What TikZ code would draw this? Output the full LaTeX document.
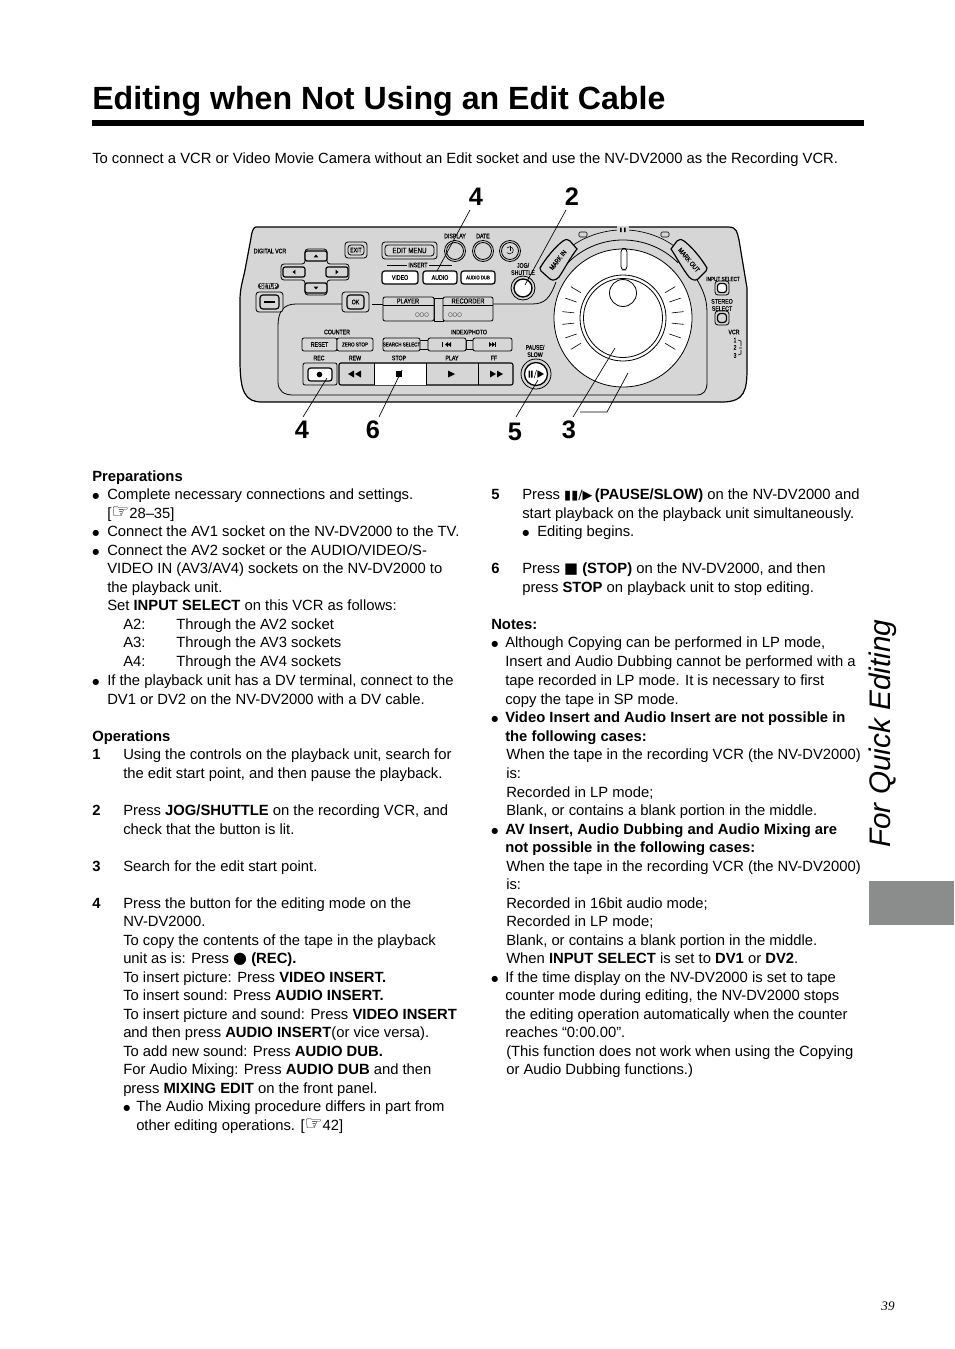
\documentclass[tikz,border=0pt]{standalone}
\usepackage{fontspec}
\setmainfont{Liberation Sans}
\newfontfamily\sym{DejaVu Sans}
\newfontfamily\pageserif{Liberation Serif}
\newfontfamily\narrowf[FakeStretch=0.8,FakeBold=0.5]{Liberation Sans}
\usetikzlibrary{arrows.meta}
\definecolor{panelgrey}{HTML}{D6D6D6}
\definecolor{tabgrey}{HTML}{8B8D8D}
\newcounter{tn}
\tikzset{
  x=0.75pt,y=-0.75pt,
  bodytext/.style={anchor=base west,inner sep=0pt,font=\fontsize{11.1}{12}\selectfont},
  tiny label/.style={inner sep=0pt,font=\narrowf\fontsize{4.9}{5.4}\selectfont,align=center},
  callout/.style={inner sep=0pt,font=\fontsize{19}{19}\selectfont\bfseries},
  leader/.style={draw=black,line width=0.5pt},
  devline/.style={draw=black,line width=0.6pt},
  btnouter/.style={draw=black,line width=0.6pt,rounded corners=2.2pt,fill=panelgrey},
  btnwhite/.style={draw=black,line width=0.9pt,rounded corners=2pt,fill=white},
  btnflat/.style={draw=black,line width=0.6pt,rounded corners=1.5pt,fill=panelgrey},
  marktab/.style={draw=black,line width=0.9pt,fill=panelgrey},
}
% body line: x, y of the line's middle in page pixels, text
\newcommand{\tl}[3]{\stepcounter{tn}\node[bodytext] (t\arabic{tn}) at (#1,#2+5) {#3};}
% device button: x1,y1,x2,y2,style,text
\newcommand{\btn}[6]{\draw[#5] (#1,#2) rectangle (#3,#4);\stepcounter{tn}\node[tiny label] (t\arabic{tn}) at ({(#1+#3)/2},{(#2+#4)/2}) {#6};}
\newcommand{\tinyt}[3]{\stepcounter{tn}\node[tiny label] (t\arabic{tn}) at (#1,#2) {#3};}
\newcommand{\bul}{{\sym\fontsize{6}{6}\selectfont\raisebox{0.6pt}{●}}}
\newcommand{\hand}{{\sym\fontsize{15}{12}\selectfont\char"261E}}
\begin{document}
\begin{tikzpicture}
\useasboundingbox[fill=white] (0,0) rectangle (954,1349);

% ---------- heading ----------
\node[anchor=base west,inner sep=0pt,font=\fontsize{24.1}{26}\selectfont\bfseries] (title) at (92,109) {Editing when Not Using an Edit Cable};
\fill[black] (92,120) rectangle (864,126);
\tl{92}{158}{To connect a VCR or Video Movie Camera without an Edit socket and use the NV-DV2000 as the Recording VCR.}

% ---------- device ----------
\draw[devline,fill=panelgrey,line width=0.9pt] (256,227) -- (728,227) .. controls (737,227) and (737,232) .. (739,240) -- (747,288) -- (747,368)
  .. controls (747,390) and (745,402) .. (722,402) -- (262,402) .. controls (245,402) and (240,392) .. (240,360) -- (240,300) .. controls (240,288) and (243,280) .. (245,270) -- (251,238) .. controls (252,230) and (254,227) .. (256,227) -- cycle;
% lower panel edge
\draw[devline] (342,304) -- (296,304) .. controls (283,304) and (278,312) .. (278,326) -- (278,382) .. controls (278,391) and (284,395) .. (293,395) -- (696,395) .. controls (704,395) and (707,391) .. (707,382) -- (707,312) .. controls (707,298) and (702,288) .. (696,278);
\draw[devline] (372,304) -- (383,304);
\draw[devline] (493,304) -- (532,304) .. controls (545,304) and (550,298) .. (556,282);
% arcs round the dial
\coordinate (dial) at (623,318);
\draw[devline] (dial) ++(225:78) arc[start angle=225,end angle=315,radius=78];
\draw[line width=0.5pt,-{Stealth[length=4pt,width=3pt]}] (618.5,230) arc[start angle=267,end angle=228,radius=88];
\draw[line width=0.5pt,-{Stealth[length=4pt,width=3pt]}] (627.5,230) arc[start angle=273,end angle=312,radius=88];
\fill[panelgrey] (617,226) rectangle (629,233);
\fill[black] (620,227.5) rectangle (621.7,232) (624,227.5) rectangle (625.7,232);
\btn{579}{232}{587}{237}{draw=black,line width=0.4pt,rounded corners=1pt}{}
\btn{661}{232}{669}{237}{draw=black,line width=0.4pt,rounded corners=1pt}{}
% dial
\draw[devline,fill=white] (dial) circle (69);
\draw[devline] (dial) circle (43);
\draw[devline] (dial) circle (39.5);
\draw[devline] (623,293) circle (13.5);
\draw[devline,rounded corners=2.5pt] (621,248.5) rectangle (627,270);
\foreach \a in {-31,-19,-6,6,19,31}{
  \draw[line width=0.45pt] (dial) ++(\a:49) -- ++(\a:12);
  \draw[line width=0.45pt] (dial) ++(180+\a:49) -- ++(180+\a:12);
}
% mark buttons
\draw[marktab] (540,268) .. controls (546,258) and (555,247) .. (563,241) .. controls (566,239) and (568,239) .. (570,241) -- (577,249) .. controls (570,258) and (565,268) .. (559,277) .. controls (556,280) and (553,281) .. (550,279) -- (541,271) .. controls (540,270) and (540,269) .. (540,268) -- cycle;
\draw[marktab] (707,268) .. controls (701,258) and (692,247) .. (684,241) .. controls (681,239) and (679,239) .. (677,241) -- (671,249) .. controls (677,258) and (682,268) .. (689,277) .. controls (692,280) and (695,281) .. (698,279) -- (706,271) .. controls (707,270) and (707,269) .. (707,268) -- cycle;
\node[inner sep=0pt,rotate=52,font=\narrowf\fontsize{5.2}{5}\selectfont] (markin) at (558,260) {MARK IN};
\node[inner sep=0pt,rotate=-50,font=\narrowf\fontsize{5.2}{5}\selectfont] (markout) at (689,260) {MARK OUT};
% top row circles
\foreach \n/\cx/\cy/\ro/\ri in {disp/455/251/10.5/8.5,date/483/251/10.5/8.5,pow/510/251/10.5/8.5}{
  \draw[devline,fill=panelgrey] (\cx,\cy) circle (\ro);
  \draw[devline] (\cx,\cy) circle (\ri);
}
\draw[line width=0.4pt] (507,248) arc[start angle=220,end angle=500,radius=3.6];
\draw[line width=0.4pt] (510,245.5) -- (510,251);
\tinyt{455}{236}{DISPLAY}
\tinyt{483}{236}{DATE}
\tinyt{270}{251}{DIGITAL VCR}
% exit, edit menu
\btn{345}{242}{367}{258}{btnouter}{}
\btn{348}{245}{364}{255}{btnouter}{EXIT}
\btn{382}{242}{437}{259}{btnouter}{}
\btn{385}{245}{434}{256}{btnouter}{\fontsize{5.8}{6}\selectfont EDIT MENU}
% cursor pad
\draw[btnouter] (305,249) -- (327,249) -- (327,264) -- (349,264) -- (349,280) -- (327,280) -- (327,295) -- (305,295) -- (305,280) -- (281,280) -- (281,264) -- (305,264) -- cycle;
\btn{305}{251}{327}{261}{btnflat,line width=0.9pt}{\tikz\fill (-1.8pt,0) -- (1.8pt,0) -- (0,2.2pt) -- cycle;}
\btn{283}{267}{305}{277}{btnflat,line width=0.9pt}{\tikz\fill (0,-1.8pt) -- (0,1.8pt) -- (-2.2pt,0) -- cycle;}
\btn{326}{267}{348}{277}{btnflat,line width=0.9pt}{\tikz\fill (0,-1.8pt) -- (0,1.8pt) -- (2.2pt,0) -- cycle;}
\btn{305}{283}{327}{293}{btnflat,line width=0.9pt}{\tikz\fill (-1.8pt,0) -- (1.8pt,0) -- (0,-2.2pt) -- cycle;}
% setup, ok
\fill[black!85,rounded corners=2pt] (258,283) rectangle (279,289);
\node[tiny label,text=white] (setup) at (268.5,286) {SETUP};
\btn{256}{292}{283}{312}{btnouter}{}
\btn{260}{295}{279}{309}{btnouter,line width=0.9pt}{}
\draw[line width=1pt] (264,302) -- (275,302);
\btn{342}{292}{369}{312}{btnouter}{}
\btn{347}{295}{364}{309}{btnouter,line width=0.9pt}{OK}
% insert
\draw[line width=0.5pt] (387,265) -- (407,265) (429,265) -- (452,265);
\tinyt{418}{265}{INSERT}
\btn{382}{271}{418}{284}{btnwhite}{VIDEO}
\btn{423}{271}{457}{284}{btnwhite}{AUDIO}
\btn{461}{271}{495}{284}{btnwhite}{\fontsize{4}{5}\selectfont AUDIO DUB}
% player / recorder
\draw[devline,fill=panelgrey] (434,298) rectangle (443,321);
\btn{383}{297}{434}{321}{btnflat}{}
\btn{443}{297}{493}{321}{btnflat}{}
\draw[devline] (383,305) -- (434,305) (443,305) -- (493,305);
\tinyt{408}{301}{\fontsize{5.4}{6}\selectfont PLAYER}
\tinyt{468}{301}{\fontsize{5.4}{6}\selectfont RECORDER}
\tinyt{422}{315}{{\sym\fontsize{4}{4}\selectfont ○○○}}
\tinyt{455}{315}{{\sym\fontsize{4}{4}\selectfont ○○○}}
% counter row
\tinyt{337}{332}{COUNTER}
\tinyt{469}{332}{INDEX/PHOTO}
\btn{302}{338}{337}{351}{btnflat}{RESET}
\btn{337}{338}{373}{351}{btnflat}{\fontsize{4.2}{5}\selectfont ZERO STOP}
\draw[devline] (419,340) rectangle (429,349) (466,340) rectangle (473,349);
\btn{383}{338}{420}{351}{btnflat}{\fontsize{4.2}{5}\selectfont SEARCH SELECT}
\btn{428}{338}{466}{351}{btnflat}{}
\btn{473}{338}{512}{351}{btnflat}{}
\draw[line width=0.6pt] (442,342) -- (442,347) (495,342) -- (495,347);
\fill (448,342) -- (448,347) -- (445,344.5) -- cycle (451,342) -- (451,347) -- (448,344.5) -- cycle;
\fill (489,342) -- (489,347) -- (492,344.5) -- cycle (492,342) -- (492,347) -- (495,344.5) -- cycle;
% transport
\tinyt{319}{358}{REC}
\tinyt{355}{358}{REW}
\tinyt{399}{358}{STOP}
\tinyt{452}{358}{PLAY}
\tinyt{494}{358}{FF}
\btn{303}{363}{337}{385}{btnflat}{}
\btn{308}{368}{332}{381}{btnwhite}{}
\fill[black] (319.5,374.5) circle (2.8);
\draw[btnflat,line width=0.8pt] (339,363) rectangle (513,385);
\fill[white] (374,363.5) rectangle (426,384.5);
\draw[devline] (374,363) -- (374,385) (426,363) -- (426,385) (478,363) -- (478,385);
\fill (396,371) rectangle (402,377);
\fill (448,370.5) -- (448,377.5) -- (455,374) -- cycle;
\fill (354,370.5) -- (354,377.5) -- (348,374) -- cycle (361,370.5) -- (361,377.5) -- (355,374) -- cycle;
\fill (490,370.5) -- (490,377.5) -- (496,374) -- cycle (497,370.5) -- (497,377.5) -- (503,374) -- cycle;
% pause
\tinyt{535}{351}{PAUSE/\\SLOW}
\draw[devline,fill=panelgrey] (536,374) circle (15);
\draw[devline,line width=1pt,fill=white] (536,374) circle (11.5);
\fill (528.5,370.5) rectangle (530,377.5) (531.2,370.5) rectangle (532.7,377.5);
\draw[line width=0.4pt] (536.5,370) -- (534.2,378);
\fill (537,370.5) rectangle (537.6,377.5) (538,370.5) -- (538,377.5) -- (544,374) -- cycle;
% jog shuttle
\tinyt{523}{269}{JOG/\\SHUTTLE}
\draw[devline,fill=panelgrey] (523,288) circle (12);
\draw[devline,line width=1pt,fill=white] (523,288) circle (9);
% right side
\tinyt{723}{279}{\fontsize{4.4}{5}\selectfont INPUT SELECT}
\btn{715}{281}{729}{295}{btnouter}{}
\btn{717.5}{283.5}{726.5}{292.5}{btnwhite}{}
\tinyt{722}{305}{STEREO\\SELECT}
\btn{715}{311}{729}{325}{btnouter}{}
\btn{717.5}{313.5}{726.5}{322.5}{btnouter,line width=0.9pt}{}
\tinyt{734}{332}{VCR}
\tinyt{735}{340}{1}
\tinyt{735}{347.5}{2}
\tinyt{735}{355.5}{3}
\draw[line width=0.4pt] (738,340) -- (741,341) -- (741,346) (739,348) -- (742,348) (738,355) -- (741,354) -- (741,350);

% ---------- callouts ----------
\node[callout] (c4top) at (476,197) {4};
\node[callout] (c2) at (572,197) {2};
\node[callout] (c4low) at (302,430) {4};
\node[callout] (c6) at (373,430) {6};
\node[callout] (c5) at (515,432) {5};
\node[callout] (c3) at (569,430) {3};
\coordinate (a4top) at (470,210); \coordinate (b4top) at (437,271);
\coordinate (a2) at (566,210);    \coordinate (b2) at (525,285);
\coordinate (a4low) at (303,417); \coordinate (b4low) at (327,378);
\coordinate (a6) at (379,417);    \coordinate (b6) at (402,370);
\coordinate (a5) at (516,417);    \coordinate (b5) at (538,380);
\coordinate (a3) at (573,417);    \coordinate (b3) at (615,348);
\coordinate (m3) at (580,412);    \coordinate (k3) at (607,412); \coordinate (e3) at (628,373);
\draw[leader] (a4top) -- (b4top);
\draw[leader] (a2) -- (b2);
\draw[leader] (a4low) -- (b4low);
\draw[leader] (a6) -- (b6);
\draw[leader] (a5) -- (b5);
\draw[leader] (a3) -- (b3);
\draw[leader] (m3) -- (k3) -- (e3);

% ---------- left column ----------
\tl{92}{476}{\textbf{Preparations}}
\tl{92}{494}{\bul}\tl{107}{494}{Complete necessary connections and settings.}
\tl{107}{513}{[\hand28–35]}
\tl{92}{531}{\bul}\tl{107}{531}{Connect the AV1 socket on the NV-DV2000 to the TV.}
\tl{92}{550}{\bul}\tl{107}{550}{Connect the AV2 socket or the AUDIO/VIDEO/S-}
\tl{107}{568}{VIDEO IN (AV3/AV4) sockets on the NV-DV2000 to}
\tl{107}{587}{the playback unit.}
\tl{107}{605}{Set \textbf{INPUT SELECT} on this VCR as follows:}
\tl{123}{624}{A2:}\tl{176}{624}{Through the AV2 socket}
\tl{123}{642}{A3:}\tl{176}{642}{Through the AV3 sockets}
\tl{123}{661}{A4:}\tl{176}{661}{Through the AV4 sockets}
\tl{92}{680}{\bul}\tl{107}{680}{If the playback unit has a DV terminal, connect to the}
\tl{107}{699}{DV1 or DV2 on the NV-DV2000 with a DV cable.}
\tl{92}{736}{\textbf{Operations}}
\tl{92}{754}{\textbf{1}}\tl{123}{754}{Using the controls on the playback unit, search for}
\tl{123}{773}{the edit start point, and then pause the playback.}
\tl{92}{810}{\textbf{2}}\tl{123}{810}{Press \textbf{JOG/SHUTTLE} on the recording VCR, and}
\tl{123}{829}{check that the button is lit.}
\tl{92}{866}{\textbf{3}}\tl{123}{866}{Search for the edit start point.}
\tl{92}{903}{\textbf{4}}\tl{123}{903}{Press the button for the editing mode on the}
\tl{123}{921}{NV-DV2000.}
\tl{123}{940}{To copy the contents of the tape in the playback}
\tl{123}{958}{unit as is: Press {\sym\fontsize{12}{12}\selectfont●} \textbf{(REC).}}
\tl{123}{977}{To insert picture: Press \textbf{VIDEO INSERT.}}
\tl{123}{995}{To insert sound: Press \textbf{AUDIO INSERT.}}
\tl{123}{1014}{To insert picture and sound: Press \textbf{VIDEO INSERT}}
\tl{123}{1032}{and then press \textbf{AUDIO INSERT}(or vice versa).}
\tl{123}{1051}{To add new sound: Press \textbf{AUDIO DUB.}}
\tl{123}{1069}{For Audio Mixing: Press \textbf{AUDIO DUB} and then}
\tl{123}{1088}{press \textbf{MIXING EDIT} on the front panel.}
\tl{123}{1106}{\bul}\tl{136}{1106}{The Audio Mixing procedure differs in part from}
\tl{136}{1125}{other editing operations. [\hand42]}

% ---------- right column ----------
\tl{491}{494}{\textbf{5}}\tl{522}{494}{Press {\sym\fontsize{9.6}{9}\selectfont ▮▮/▶}\,\textbf{(PAUSE/SLOW)} on the NV-DV2000 and}
\tl{522}{513}{start playback on the playback unit simultaneously.}
\tl{522}{531}{\bul}\tl{537}{531}{Editing begins.}
\tl{491}{568}{\textbf{6}}\tl{522}{568}{Press {\sym■} \textbf{(STOP)} on the NV-DV2000, and then}
\tl{522}{587}{press \textbf{STOP} on playback unit to stop editing.}
\tl{491}{624}{\textbf{Notes:}}
\tl{491}{642}{\bul}\tl{505}{642}{Although Copying can be performed in LP mode,}
\tl{505}{661}{Insert and Audio Dubbing cannot be performed with a}
\tl{505}{680}{tape recorded in LP mode.  It is necessary to first}
\tl{505}{699}{copy the tape in SP mode.}
\tl{491}{717}{\bul}\tl{505}{717}{\textbf{Video Insert and Audio Insert are not possible in}}
\tl{505}{736}{\textbf{the following cases:}}
\tl{506}{754}{When the tape in the recording VCR (the NV-DV2000)}
\tl{506}{773}{is:}
\tl{506}{792}{Recorded in LP mode;}
\tl{506}{810}{Blank, or contains a blank portion in the middle.}
\tl{491}{829}{\bul}\tl{505}{829}{\textbf{AV Insert, Audio Dubbing and Audio Mixing are}}
\tl{505}{847}{\textbf{not possible in the following cases:}}
\tl{506}{866}{When the tape in the recording VCR (the NV-DV2000)}
\tl{506}{884}{is:}
\tl{506}{903}{Recorded in 16bit audio mode;}
\tl{506}{921}{Recorded in LP mode;}
\tl{506}{940}{Blank, or contains a blank portion in the middle.}
\tl{506}{958}{When \textbf{INPUT SELECT} is set to \textbf{DV1} or \textbf{DV2}.}
\tl{491}{977}{\bul}\tl{505}{977}{If the time display on the NV-DV2000 is set to tape}
\tl{505}{995}{counter mode during editing, the NV-DV2000 stops}
\tl{505}{1014}{the editing operation automatically when the counter}
\tl{505}{1032}{reaches “0:00.00”.}
\tl{506}{1051}{(This function does not work when using the Copying}
\tl{506}{1069}{or Audio Dubbing functions.)}

% ---------- margin ----------
\node[anchor=base west,inner sep=0pt,rotate=90,font=\fontsize{22.3}{23}\selectfont\itshape] (section) at (890,848) {For Quick Editing};
\fill[tabgrey] (869,881) rectangle (954,925);
\node[anchor=base,inner sep=0pt,font=\pageserif\itshape\fontsize{9.8}{10}\selectfont] (pagenum) at (888,1310) {39};
\end{tikzpicture}
\end{document}
